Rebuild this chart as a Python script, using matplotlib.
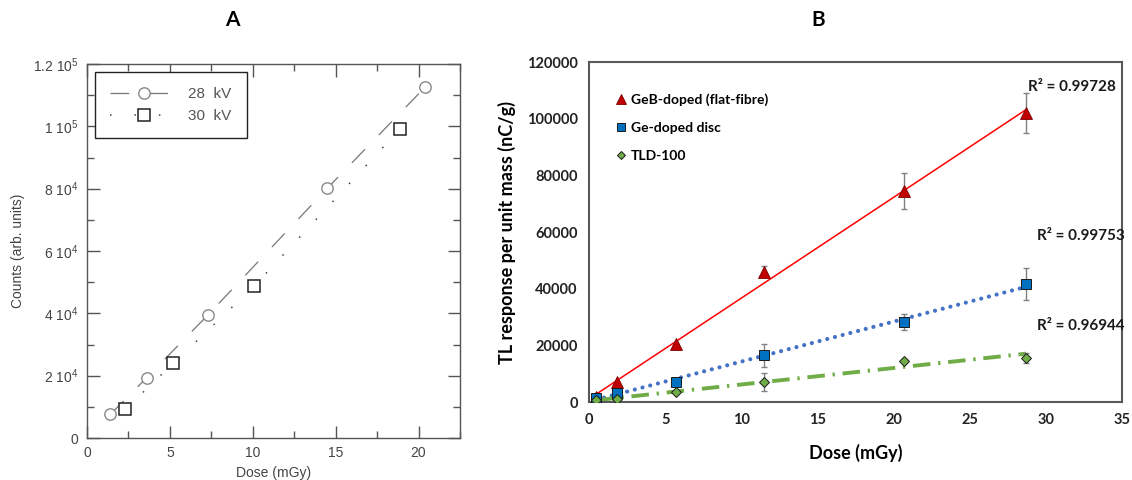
import numpy as np
import matplotlib
matplotlib.use("Agg")
import matplotlib.pyplot as plt
from matplotlib.lines import Line2D
from matplotlib.ticker import MultipleLocator, FixedLocator, FixedFormatter

plt.rcParams['mathtext.fontset'] = 'custom'
plt.rcParams['mathtext.rm'] = 'Liberation Sans'
plt.rcParams['mathtext.it'] = 'Liberation Sans'

# Panel A data
dose_28kv = [1.41, 3.6, 7.3, 14.49, 20.38]
counts_28kv = [7600, 19350, 39500, 80100, 112500]
dose_30kv = [2.31, 5.2, 10.09, 18.87]
counts_30kv = [9200, 23950, 48770, 99050]
a_yticks = [0, 20000, 40000, 60000, 80000, 100000, 120000]
a_yticklabels = ['0', '2 10$^{4}$', '4 10$^{4}$', '6 10$^{4}$', '8 10$^{4}$',
                 '1 10$^{5}$', '1.2 10$^{5}$']

# Panel B data
dose_b = [0.48, 1.83, 5.73, 11.5, 20.7, 28.7]
geb_flat = [1800, 7000, 20400, 46000, 74500, 102000]
geb_err = [0, 0, 0, 2000, 6400, 7000]
ge_disc = [1400, 3300, 7200, 16500, 28200, 41600]
ge_err = [0, 0, 0, 4000, 2700, 5700]
tld100 = [600, 1000, 3500, 7100, 14500, 15600]
tld_err = [0, 0, 0, 3100, 800, 1800]
r2_labels = ['R² = 0.99728', 'R² = 0.99753', 'R² = 0.96944']

fig = plt.figure(figsize=(11.32, 4.8), dpi=100)

# ---------------- Panel A ----------------
axA = fig.add_axes([87/1132, 42/480, 373/1132, 374/480])
grey_txt = '#444444'
axA.plot(dose_28kv, counts_28kv, color='#777777', lw=0.9, dashes=(15, 16),
         marker='o', ms=8.2, mfc='white', mec='#888888', mew=1.0, zorder=3)
axA.plot(dose_30kv, counts_30kv, color='#444444', lw=1.1, dashes=(1, 15),
         marker='s', ms=8.6, mfc='white', mec='#222222', mew=1.1, zorder=3)
axA.set_xlim(0, 22.5)
axA.set_ylim(0, 120000)
axA.xaxis.set_major_locator(MultipleLocator(5))
axA.xaxis.set_minor_locator(MultipleLocator(2.5))
axA.yaxis.set_major_locator(FixedLocator(a_yticks))
axA.yaxis.set_major_formatter(FixedFormatter(a_yticklabels))
axA.yaxis.set_minor_locator(MultipleLocator(10000))
axA.tick_params(which='both', direction='in', top=True, right=True,
                colors='#555555', labelcolor=grey_txt, labelsize=10, width=1)
axA.tick_params(which='major', length=9, pad=6)
axA.tick_params(which='minor', length=5)
for lab in axA.get_xticklabels() + axA.get_yticklabels():
    lab.set_family('Liberation Sans')
for sp in axA.spines.values():
    sp.set_color('#555555')
    sp.set_linewidth(1.0)
axA.set_xlabel('Dose (mGy)', fontsize=10, color=grey_txt, family='Liberation Sans', labelpad=4)
axA.set_ylabel('Counts (arb. units)', fontsize=10, color=grey_txt, family='Liberation Sans', labelpad=6)
hA = [Line2D([], [], color='#777777', lw=0.9, dashes=(15, 16), marker='o', ms=8.2,
             mfc='white', mec='#888888', mew=1.0),
      Line2D([], [], color='#444444', lw=1.1, dashes=(1, 15), marker='s', ms=8.6,
             mfc='white', mec='#222222', mew=1.1)]
legA = axA.legend(hA, ['28  kV', '30  kV'], loc='upper left', numpoints=1,
                  handlelength=4.4, handletextpad=0.7, borderpad=1.0, labelspacing=0.5,
                  borderaxespad=0.52, fancybox=False, framealpha=1, edgecolor='#222222',
                  prop={'family': 'Liberation Sans', 'size': 11})
legA.get_frame().set_linewidth(1.0)
for t in legA.get_texts():
    t.set_color('#555555')
fig.text(232/1132, 1 - 20/480, 'A', ha='center', va='center', fontsize=15,
         fontweight='bold', family='Lato')

# ---------------- Panel B ----------------
axB = fig.add_axes([589/1132, 78/480, 533/1132, 340/480])
xb = np.array(dose_b)
xfit = np.array([xb.min(), xb.max()])
p_red = np.polyfit(xb, geb_flat, 1)
p_blue = np.polyfit(xb, ge_disc, 1)
p_green = np.polyfit(xb, tld100, 1)
axB.plot(xfit, np.polyval(p_red, xfit), color='#FF0000', lw=1.1, zorder=2)
axB.plot(xfit, np.polyval(p_blue, xfit), color='#4472C4', lw=3.0, dashes=(0.01, 1.9),
         dash_capstyle='round', zorder=2)
axB.plot(xfit, np.polyval(p_green, xfit), color='#70AD47', lw=2.8, dashes=(4.5, 2, 0.6, 2),
         zorder=2)
for yv, ev in [(geb_flat, geb_err), (ge_disc, ge_err), (tld100, tld_err)]:
    axB.errorbar(dose_b, yv, yerr=ev, fmt='none', ecolor='#808080', elinewidth=1,
                 capsize=2.5, capthick=1, zorder=3)
axB.plot(dose_b, geb_flat, ls='none', marker='^', ms=8, mfc='#C00000', mec='#7a0000',
         mew=0.6, zorder=4, label='GeB-doped (flat-fibre)')
axB.plot(dose_b, ge_disc, ls='none', marker='s', ms=7, mfc='#0070C0', mec='#1a1a1a',
         mew=0.7, zorder=4, label='Ge-doped disc')
axB.plot(dose_b, tld100, ls='none', marker='D', ms=5.3, mfc='#70AD47', mec='#1a1a1a',
         mew=0.7, zorder=4, label='TLD-100')
axB.set_xlim(0, 35)
axB.set_ylim(0, 120000)
axB.xaxis.set_major_locator(MultipleLocator(5))
axB.yaxis.set_major_locator(MultipleLocator(20000))
axB.tick_params(length=0, pad=8, labelsize=10.5, labelcolor='#222222')
for lab in axB.get_xticklabels() + axB.get_yticklabels():
    lab.set_family('Lato')
    lab.set_fontweight('bold')
for sp in axB.spines.values():
    sp.set_color('#595959')
    sp.set_linewidth(1.5)
axB.set_xlabel('Dose (mGy)', fontsize=13, fontweight='bold', family='Lato', labelpad=12)
axB.set_ylabel('TL response per unit mass (nC/g)', fontsize=13, fontweight='bold',
               family='Lato', labelpad=8)
legB = axB.legend(loc='upper left', bbox_to_anchor=(0.049, 0.909), borderaxespad=0,
                  borderpad=0, frameon=False, numpoints=1, handlelength=0.8,
                  handletextpad=0.35, labelspacing=1.15,
                  prop={'family': 'Lato', 'weight': 'bold', 'size': 10})
for h in legB.legend_handles:
    h.set_markersize(h.get_markersize() * 0.85)
r2_pos = [(28.8, 111300), (29.4, 58650), (29.4, 26850)]
for (tx, ty), s in zip(r2_pos, r2_labels):
    axB.text(tx, ty, s, ha='left', va='center', fontsize=11, fontweight='bold',
             family='Lato', color='#1a1a1a')
fig.text(818/1132, 1 - 20/480, 'B', ha='center', va='center', fontsize=15,
         fontweight='bold', family='Lato')

fig.savefig('out.png', dpi=100)
